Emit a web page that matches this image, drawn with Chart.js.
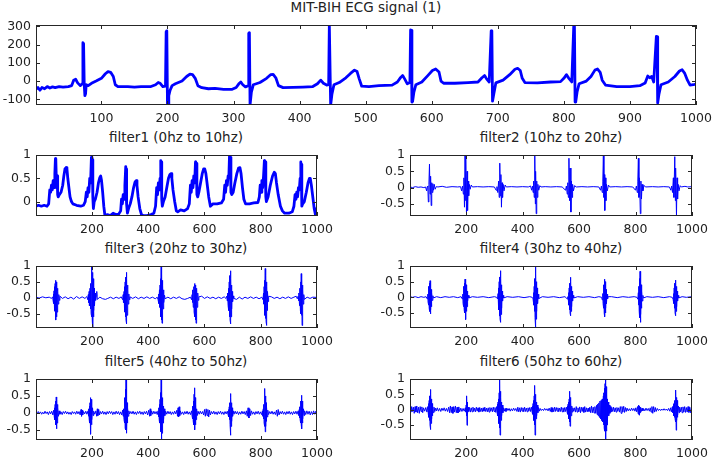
<!DOCTYPE html>
<html>
<head>
<meta charset="utf-8">
<script src="https://cdn.jsdelivr.net/npm/chart.js@4"></script>
<style>
body { margin: 0; background: #fff; width: 714px; height: 459px; position: relative; overflow: hidden; }
canvas { position: absolute; }
.t { position: absolute; font: 13.5px "DejaVu Sans"; color: #222; white-space: nowrap; transform: translate(-50%, -50%); }
</style>
</head>
<body>
<div class="t" style="left:366px;top:7px">MIT-BIH ECG signal (1)</div>
<div class="t" style="left:176px;top:137px">filter1 (0hz to 10hz)</div>
<div class="t" style="left:551px;top:137px">filter2 (10hz to 20hz)</div>
<div class="t" style="left:176px;top:248px">filter3 (20hz to 30hz)</div>
<div class="t" style="left:551px;top:248px">filter4 (30hz to 40hz)</div>
<div class="t" style="left:176px;top:361px">filter5 (40hz to 50hz)</div>
<div class="t" style="left:551px;top:361px">filter6 (50hz to 60hz)</div>
<canvas id="c0"></canvas>
<canvas id="c1"></canvas>
<canvas id="c2"></canvas>
<canvas id="c3"></canvas>
<canvas id="c4"></canvas>
<canvas id="c5"></canvas>
<canvas id="c6"></canvas>
<script>
// tick labels
const xTicksTop = [100, 200, 300, 400, 500, 600, 700, 800, 900, 1000];
const xTicksSub = [200, 400, 600, 800, 1000];
const ecgTicks = [-100, 0, 100, 200, 300];
const f1Ticks = [0, 0.5, 1];
const subTicks = [-0.5, 0, 0.5, 1];

// signals, [sample, value]
const ecg = [[1,-45],[4,-35],[7,-50],[10,-35],[14,-42],[18,-30],[22,-38],[26,-32],[30,-36],[36,-30],[42,-33],[50,-30],[55,-25],[58,5],[61,10],[64,-10],[68,-25],[71,-15],[72,210],[73,205],[74,-20],[75,-80],[76,-70],[77,-20],[80,-25],[85,-12],[92,0],[100,15],[106,40],[110,52],[114,48],[118,25],[121,-20],[125,-30],[140,-30],[150,-33],[160,-30],[175,-30],[182,-20],[186,-8],[189,-12],[193,-30],[197,-28],[198,270],[199,275],[200,-130],[201,-131],[202,-80],[204,-50],[207,-25],[212,-15],[222,0],[229,25],[234,38],[238,35],[242,15],[246,-25],[252,-36],[262,-42],[272,-40],[285,-46],[298,-45],[304,-35],[308,-15],[311,-5],[314,-20],[318,-32],[322,-25],[323,262],[324,265],[325,-131],[327,-60],[330,-20],[340,-8],[350,15],[356,35],[360,36],[364,18],[368,-25],[375,-36],[390,-35],[405,-33],[420,-30],[427,-15],[432,5],[436,-12],[441,-22],[444,-20],[445,307],[446,307],[447,-131],[449,-70],[452,-20],[460,-8],[470,18],[477,42],[483,60],[487,52],[490,15],[494,-28],[505,-30],[520,-25],[540,-22],[548,-5],[553,20],[556,30],[559,12],[563,-15],[567,-8],[568,280],[569,278],[570,-115],[571,-112],[573,-60],[576,-20],[585,-5],[594,30],[601,58],[606,66],[611,50],[614,0],[618,-12],[635,-12],[655,-8],[670,-5],[676,18],[680,30],[683,12],[687,-5],[690,275],[691,272],[692,-110],[694,-70],[697,-10],[708,5],[718,35],[726,65],[730,70],[734,58],[737,15],[741,-8],[760,-10],[780,-5],[795,-3],[800,15],[804,35],[807,18],[812,-5],[815,305],[816,300],[817,-115],[818,-112],[820,-60],[823,-15],[834,0],[841,25],[847,60],[851,66],[855,48],[858,5],[863,-22],[880,-30],[900,-30],[915,-25],[923,-10],[927,28],[930,18],[933,25],[936,-5],[940,245],[941,242],[942,-120],[944,-70],[947,-20],[958,-5],[968,25],[975,55],[979,62],[983,42],[987,5],[991,-22],[996,-20],[1000,-16]];

const f1 = [[1,-0.1],[10,-0.08],[20,-0.1],[30,-0.08],[40,-0.1],[46,-0.05],[50,0.25],[53,0.2],[56,0.35],[59,0.25],[62,0.45],[65,0.3],[68,0.6],[70,0.92],[71,0.5],[72,0.88],[74,0.3],[76,0.55],[78,0.15],[80,0.1],[84,0.15],[90,0.2],[96,0.35],[100,0.55],[104,0.7],[108,0.73],[111,0.7],[114,0.5],[118,0.3],[122,0.1],[127,0],[132,-0.05],[145,-0.08],[160,-0.1],[170,-0.08],[176,0],[180,0.2],[183,0.1],[186,0.3],[189,0.2],[192,0.5],[195,0.4],[198,0.95],[200,0.6],[201,0.9],[203,0.1],[205,-0.15],[208,0],[212,0.05],[218,0.2],[223,0.4],[228,0.52],[231,0.55],[234,0.45],[238,0.2],[242,-0.1],[246,-0.3],[255,-0.28],[265,-0.3],[275,-0.25],[285,-0.28],[295,-0.27],[302,-0.2],[305,0.05],[308,-0.05],[311,0.15],[314,0.05],[317,0.35],[320,0.75],[321,0.3],[322,0.7],[324,-0.05],[326,-0.25],[330,-0.15],[336,-0.05],[342,0.1],[348,0.3],[353,0.42],[357,0.45],[360,0.35],[364,0.1],[370,-0.15],[376,-0.28],[382,-0.3],[395,-0.3],[410,-0.28],[420,-0.25],[426,-0.1],[430,0.3],[433,0.15],[436,0.4],[439,0.25],[442,0.5],[444,0.88],[445,0.4],[446,0.85],[448,0.05],[450,-0.1],[454,0],[460,0.1],[466,0.3],[472,0.5],[477,0.58],[481,0.6],[484,0.5],[488,0.25],[494,0],[500,-0.2],[505,-0.22],[515,-0.18],[528,-0.2],[540,-0.15],[546,-0.05],[550,0.35],[553,0.2],[556,0.45],[559,0.3],[562,0.55],[565,0.4],[568,0.85],[569,0.5],[571,0.82],[573,0.15],[576,0.1],[580,0.2],[586,0.4],[592,0.6],[597,0.7],[601,0.7],[605,0.6],[610,0.35],[615,0.1],[621,-0.1],[630,-0.05],[645,-0.05],[660,-0.03],[668,0.05],[672,0.35],[675,0.2],[678,0.45],[681,0.35],[684,0.55],[687,0.6],[689,1.0],[690,0.5],[692,0.95],[694,0.2],[697,0.15],[702,0.2],[708,0.4],[715,0.6],[721,0.72],[726,0.73],[730,0.6],[735,0.3],[740,0.05],[746,-0.05],[760,-0.05],[775,-0.03],[790,-0.02],[795,0.1],[798,0.35],[801,0.2],[804,0.45],[807,0.3],[810,0.55],[813,0.88],[814,0.4],[816,0.85],[818,0.1],[820,0],[826,0.1],[834,0.35],[842,0.55],[848,0.63],[852,0.6],[856,0.4],[862,0.15],[870,-0.1],[877,-0.2],[885,-0.25],[900,-0.25],[912,-0.22],[918,-0.1],[922,0.15],[925,0.05],[928,0.2],[931,0.1],[934,0.3],[937,0.25],[940,0.5],[942,0.85],[943,0.3],[944,0.8],[946,-0.1],[949,-0.05],[955,0],[962,0.2],[968,0.4],[973,0.5],[976,0.5],[980,0.35],[985,0.1],[990,-0.15],[995,-0.3],[998,-0.15],[1000,-0.2]];

const f2 = [[1,0.02],[10,0],[20,0.03],[30,0.01],[40,0.02],[50,0],[56,0.02],[60,-0.1],[62,0.03],[64,0.05],[66,-0.44],[68,0.1],[70,0.72],[72,-0.2],[74,0.35],[76,-0.55],[78,0.15],[80,-0.15],[82,0.12],[84,-0.08],[87,0.1],[90,-0.05],[94,0.03],[100,0.02],[115,0.04],[130,0.01],[150,0.03],[170,0.02],[180,0.03],[184,-0.1],[187,0.05],[190,-0.2],[192,0.3],[194,-0.6],[196,1.0],[198,-0.4],[199,0.9],[201,-0.75],[203,0.5],[205,-0.7],[207,0.2],[209,-0.25],[211,0.1],[214,-0.05],[218,0.08],[222,0.02],[240,0.03],[260,0.02],[280,0.03],[300,0.02],[306,-0.08],[309,0.03],[312,-0.15],[315,0.2],[317,-0.3],[319,0.75],[321,-0.25],[323,0.4],[325,-0.6],[327,0.15],[329,-0.3],[331,0.1],[334,-0.1],[338,0.08],[342,0.02],[360,0.03],[380,0.02],[400,0.03],[420,0.02],[428,0.05],[432,-0.08],[435,0.05],[437,-0.15],[439,0.2],[441,-0.3],[443,1.0],[445,-0.5],[446,0.5],[448,-0.8],[450,0.2],[452,-0.3],[454,0.1],[457,-0.08],[461,0.06],[465,0.02],[480,0.03],[500,0.02],[520,0.03],[540,0.02],[552,-0.08],[555,0.05],[558,-0.2],[560,0.15],[562,-0.3],[564,0.9],[566,-0.4],[568,0.6],[571,-0.75],[573,0.2],[575,-0.3],[577,0.1],[580,-0.1],[584,0.06],[590,0.02],[610,0.03],[630,0.02],[650,0.03],[670,0.02],[676,-0.08],[679,0.05],[682,-0.15],[684,0.2],[686,1.0],[688,-0.3],[689,0.4],[691,-0.7],[693,0.3],[695,-0.4],[697,0.1],[700,-0.1],[704,0.08],[708,0.02],[730,0.03],[750,0.02],[770,0.03],[790,0.02],[800,-0.08],[803,0.05],[806,-0.15],[808,0.2],[810,0.9],[812,-0.3],[814,0.3],[817,-0.8],[819,0.2],[821,-0.35],[823,0.1],[826,-0.1],[830,0.07],[835,0.02],[860,0.03],[880,0.02],[900,0.03],[920,0.02],[925,-0.08],[928,0.05],[931,-0.15],[934,0.3],[936,-0.3],[939,0.95],[941,-0.4],[942,0.6],[945,-0.85],[947,0.3],[949,-0.35],[951,0.1],[954,-0.1],[958,0.06],[962,0.02],[975,0.04],[985,0.02],[1000,0.03]];

const f3 = [[1,0.02],[12,-0.01],[24,0.03],[36,0],[48,0.02],[56,-0.02],[60,0.03],[62,-0.1],[63,0.12],[64,-0.18],[65,0.22],[66,-0.3],[67,0.35],[68,-0.42],[69,0.45],[70,-0.55],[71,0.55],[72,-0.7],[73,0.5],[74,-0.6],[75,0.4],[76,-0.45],[77,0.3],[78,-0.3],[79,0.2],[80,-0.2],[82,0.1],[84,-0.08],[86,0.05],[95,-0.02],[105,0.03],[115,-0.03],[125,0.02],[135,-0.04],[145,0.04],[155,-0.02],[165,0.03],[175,-0.02],[182,0.04],[185,-0.06],[187,0.1],[188,-0.15],[190,0.2],[191,-0.25],[193,0.3],[194,-0.35],[196,0.45],[197,-0.5],[198,0.7],[199,-0.6],[200,1.0],[201,-0.7],[202,0.8],[203,-0.95],[204,0.6],[205,-0.6],[206,0.45],[207,-0.4],[208,0.3],[209,-0.25],[211,0.15],[213,-0.08],[215,0.05],[217,0.2],[219,-0.05],[228,0.02],[238,-0.03],[248,-0.05],[256,-0.02],[266,0.02],[276,-0.03],[286,0.02],[296,-0.02],[304,0.03],[309,-0.06],[311,0.1],[312,-0.15],[314,0.2],[315,-0.3],[316,0.35],[317,-0.45],[318,0.5],[319,-0.6],[320,0.65],[321,-0.7],[322,0.8],[323,-0.82],[324,0.6],[325,-0.55],[326,0.4],[327,-0.35],[328,0.25],[329,-0.2],[331,0.12],[333,-0.06],[335,0.03],[345,-0.02],[355,0.03],[365,-0.03],[375,0.02],[385,-0.02],[395,0.03],[405,-0.02],[415,0.02],[425,-0.03],[432,0.02],[435,-0.06],[437,0.12],[438,-0.18],[440,0.25],[441,-0.3],[442,0.4],[443,-0.5],[444,0.6],[445,-0.6],[446,1.0],[447,-0.7],[448,0.75],[449,-0.8],[450,0.55],[451,-0.55],[452,0.4],[453,-0.35],[454,0.25],[456,-0.15],[458,0.08],[460,-0.03],[470,0.02],[480,-0.03],[490,0.02],[500,-0.02],[510,0.03],[520,-0.03],[530,-0.05],[540,-0.02],[550,0.02],[554,-0.06],[556,0.1],[557,-0.15],[559,0.25],[560,-0.3],[562,0.35],[563,-0.45],[565,0.45],[566,-0.6],[567,0.4],[568,-0.7],[569,0.35],[570,-0.8],[571,0.3],[572,-0.5],[573,0.25],[574,-0.3],[576,0.15],[578,-0.08],[580,0.03],[590,0.05],[600,-0.02],[610,0.03],[620,-0.02],[630,0.02],[640,-0.03],[650,0.02],[660,-0.02],[670,0.03],[676,-0.02],[679,0.05],[681,-0.1],[682,0.15],[684,-0.25],[685,0.3],[687,-0.4],[688,0.5],[689,-0.6],[690,0.7],[691,-0.7],[692,0.85],[693,-0.82],[694,0.6],[695,-0.6],[696,0.4],[697,-0.35],[698,0.2],[700,-0.12],[702,0.06],[704,-0.02],[714,-0.05],[724,0.02],[734,-0.04],[744,0.02],[754,-0.02],[764,0.03],[774,-0.02],[784,0.02],[794,-0.03],[804,0.02],[808,-0.06],[810,0.15],[811,-0.2],[812,0.35],[813,-0.45],[814,0.55],[815,-0.55],[816,0.92],[817,-0.65],[818,0.7],[819,-0.75],[820,0.5],[821,-0.87],[822,0.35],[823,-0.4],[824,0.2],[826,-0.12],[828,0.05],[838,0.03],[848,-0.02],[858,0.02],[868,-0.03],[878,0.02],[888,-0.02],[898,0.03],[908,-0.02],[918,0.02],[926,0.05],[930,-0.03],[933,0.05],[935,-0.1],[936,0.15],[938,-0.25],[939,0.3],[941,-0.4],[942,0.5],[943,-0.5],[944,0.76],[945,-0.55],[946,0.6],[947,-0.87],[948,0.4],[949,-0.4],[950,0.25],[951,-0.2],[953,0.1],[955,-0.05],[965,0.02],[975,-0.02],[985,0.02],[1000,0.01]];

const f4 = [[1,0.02],[10,0],[20,0.02],[30,-0.01],[40,0.02],[50,0],[58,0.02],[62,-0.05],[64,0.1],[65,-0.15],[66,0.2],[67,-0.25],[68,0.35],[69,-0.35],[70,0.45],[71,-0.45],[72,0.53],[73,-0.53],[74,0.4],[75,-0.4],[76,0.25],[77,-0.3],[78,0.15],[80,-0.1],[82,0.05],[84,-0.02],[95,0.02],[110,-0.01],[125,0.02],[140,0],[155,0.02],[170,-0.01],[182,0.02],[186,-0.05],[188,0.1],[189,-0.2],[190,0.2],[191,-0.3],[192,0.35],[193,-0.4],[194,0.45],[195,-0.5],[196,0.58],[197,-0.6],[198,0.5],[199,-0.71],[200,0.4],[201,-0.45],[202,0.3],[203,-0.3],[204,0.2],[206,-0.12],[208,0.06],[210,-0.02],[222,0.02],[240,0],[260,0.02],[280,-0.01],[300,0.02],[308,0],[311,-0.05],[313,0.12],[314,-0.2],[315,0.3],[316,-0.4],[317,0.5],[318,-0.6],[319,0.65],[320,-0.7],[321,0.85],[322,-0.8],[323,0.6],[324,-0.55],[325,0.4],[326,-0.35],[327,0.2],[329,-0.12],[331,0.06],[333,-0.02],[345,0.02],[365,0],[385,0.02],[405,-0.01],[425,0.02],[434,0],[437,-0.05],[439,0.15],[440,-0.25],[441,0.35],[442,-0.45],[443,0.6],[444,-0.65],[445,1.0],[446,-0.98],[447,0.75],[448,-0.7],[449,0.5],[450,-0.45],[451,0.3],[453,-0.2],[455,0.1],[457,-0.04],[470,0.02],[490,0],[510,0.02],[530,-0.01],[550,0.02],[558,-0.05],[560,0.02],[562,-0.1],[563,0.15],[564,-0.25],[565,0.3],[566,-0.4],[567,0.45],[568,-0.5],[569,0.64],[570,-0.59],[571,0.5],[572,-0.45],[573,0.35],[574,-0.3],[575,0.2],[577,-0.12],[579,0.06],[581,-0.02],[595,0.02],[615,0],[635,0.02],[655,-0.01],[670,0.02],[680,0],[682,-0.08],[684,0.12],[685,-0.2],[686,0.25],[687,-0.35],[688,0.4],[689,-0.5],[690,0.58],[691,-0.62],[692,0.5],[693,-0.5],[694,0.4],[695,-0.35],[696,0.25],[697,-0.2],[699,0.1],[701,-0.05],[703,0.02],[715,0.02],[735,-0.01],[755,0.02],[775,0],[795,0.02],[805,0],[808,-0.06],[810,0.15],[811,-0.25],[812,0.35],[813,-0.45],[814,0.6],[815,-0.65],[816,0.83],[817,-0.8],[818,0.6],[819,-0.55],[820,0.4],[821,-0.35],[822,0.2],[824,-0.12],[826,0.06],[828,-0.02],[840,0.02],[860,0],[880,0.02],[900,-0.01],[920,0.02],[930,0],[933,-0.06],[935,0.12],[936,-0.2],[937,0.3],[938,-0.35],[939,0.45],[940,-0.5],[941,0.55],[942,-0.59],[943,0.45],[944,-0.45],[945,0.35],[946,-0.3],[947,0.2],[949,-0.12],[951,0.06],[953,-0.02],[965,0.02],[980,0],[1000,0.02]];

const f5 = [[1,0.02],[5,-0.03],[9,0.04],[13,-0.02],[17,0.03],[21,-0.04],[25,0.02],[29,-0.03],[33,0.05],[37,-0.02],[41,0.03],[45,-0.05],[49,0.04],[53,-0.03],[57,0.05],[61,-0.06],[64,0.08],[66,-0.12],[67,0.15],[68,-0.2],[69,0.25],[70,-0.3],[71,0.35],[72,-0.35],[73,0.47],[74,-0.47],[75,0.4],[76,-0.3],[77,0.25],[78,-0.2],[79,0.15],[81,-0.1],[83,0.06],[86,-0.04],[90,0.03],[94,-0.05],[98,0.04],[102,-0.02],[106,0.05],[110,-0.03],[114,0.03],[118,-0.04],[122,0.02],[126,-0.05],[130,0.04],[134,-0.02],[138,0.03],[142,-0.04],[146,0.05],[150,-0.03],[154,0.04],[158,-0.06],[161,0.1],[163,-0.1],[165,0.08],[167,-0.06],[170,0.04],[174,-0.03],[178,0.05],[182,-0.04],[186,0.06],[188,-0.1],[189,0.12],[190,-0.18],[191,0.2],[192,-0.3],[193,0.3],[194,-0.45],[195,0.45],[196,-0.63],[197,0.4],[198,-0.35],[199,0.25],[200,-0.2],[202,0.15],[204,-0.08],[206,0.05],[210,-0.04],[214,0.06],[217,-0.1],[219,0.12],[221,-0.08],[224,0.1],[227,-0.06],[230,0.04],[234,-0.03],[238,0.05],[242,-0.04],[246,0.03],[250,-0.05],[254,0.04],[258,-0.03],[262,0.05],[266,-0.02],[270,0.04],[274,-0.05],[278,0.03],[282,-0.04],[286,0.05],[290,-0.03],[294,0.04],[298,-0.05],[302,0.03],[306,-0.06],[309,0.08],[311,-0.1],[312,0.12],[314,-0.2],[315,0.25],[316,-0.3],[317,0.45],[318,-0.45],[319,0.7],[320,-0.5],[321,1.0],[322,-0.6],[323,0.6],[324,-0.5],[325,0.3],[326,-0.3],[327,0.15],[329,-0.1],[331,0.06],[334,-0.03],[338,0.04],[342,-0.03],[346,0.05],[350,-0.04],[354,0.03],[358,-0.05],[362,0.04],[366,-0.02],[370,0.05],[374,-0.04],[378,0.03],[382,-0.05],[386,0.04],[390,-0.03],[394,0.05],[398,-0.06],[402,0.08],[405,-0.1],[407,0.12],[409,-0.08],[412,0.06],[416,-0.04],[420,0.05],[424,-0.03],[428,0.04],[432,-0.05],[435,0.06],[437,-0.12],[438,0.15],[439,-0.2],[440,0.25],[441,-0.3],[442,0.4],[443,-0.4],[444,0.6],[445,-0.55],[446,1.0],[447,-0.8],[448,0.7],[449,-0.6],[450,0.45],[451,-0.45],[452,0.3],[453,-0.3],[454,0.2],[455,-0.2],[457,0.12],[459,-0.08],[462,0.05],[466,-0.04],[470,0.05],[474,-0.03],[478,0.04],[482,-0.05],[486,0.03],[490,-0.04],[494,0.05],[498,-0.03],[502,0.08],[504,-0.1],[506,0.15],[508,-0.12],[510,0.18],[512,-0.08],[514,0.06],[518,-0.04],[522,0.03],[526,-0.05],[530,0.04],[534,-0.03],[538,0.05],[542,-0.04],[546,0.03],[550,-0.05],[554,0.06],[556,-0.1],[557,0.12],[558,-0.18],[559,0.2],[560,-0.25],[561,0.35],[562,-0.35],[563,0.55],[564,-0.45],[565,0.74],[566,-0.5],[567,0.45],[568,-0.35],[569,0.25],[570,-0.2],[572,0.12],[574,-0.08],[577,0.05],[581,-0.04],[585,0.05],[589,-0.03],[593,0.04],[597,-0.06],[600,0.1],[603,-0.1],[606,0.12],[609,-0.08],[612,0.1],[615,-0.12],[618,0.08],[621,-0.06],[625,0.04],[629,-0.03],[633,0.05],[637,-0.04],[641,0.03],[645,-0.05],[649,0.04],[653,-0.03],[657,0.05],[661,-0.04],[665,0.03],[669,-0.05],[673,0.04],[677,-0.03],[681,0.05],[684,-0.06],[686,0.1],[687,-0.12],[688,0.18],[689,-0.2],[690,0.3],[691,-0.35],[692,0.57],[693,-0.66],[694,0.45],[695,-0.4],[696,0.3],[697,-0.25],[698,0.15],[700,-0.1],[702,0.06],[705,-0.04],[709,0.05],[713,-0.03],[717,0.04],[721,-0.05],[725,0.03],[729,-0.04],[733,0.05],[737,-0.03],[741,0.04],[745,-0.05],[749,0.06],[752,-0.1],[755,0.15],[758,-0.15],[761,0.12],[764,-0.08],[767,0.06],[771,-0.04],[775,0.03],[779,-0.05],[783,0.04],[787,-0.03],[791,0.05],[795,-0.04],[799,0.03],[803,-0.05],[806,0.06],[808,-0.1],[809,0.12],[810,-0.18],[811,0.25],[812,-0.3],[813,0.45],[814,-0.4],[815,0.72],[816,-0.56],[817,0.5],[818,-0.4],[819,0.3],[820,-0.25],[821,0.18],[823,-0.12],[825,0.08],[828,-0.05],[832,0.04],[836,-0.03],[840,0.05],[844,-0.04],[848,0.03],[852,-0.05],[856,0.08],[859,-0.1],[862,0.1],[865,-0.06],[869,0.04],[873,-0.03],[877,0.05],[881,-0.04],[885,0.03],[889,-0.05],[893,0.04],[897,-0.03],[901,0.05],[905,-0.04],[909,0.03],[913,-0.05],[917,0.04],[921,-0.03],[925,0.05],[929,-0.04],[933,0.06],[936,-0.08],[937,0.1],[938,-0.15],[939,0.18],[940,-0.2],[941,0.25],[942,-0.3],[943,0.35],[944,-0.35],[945,0.52],[946,-0.47],[947,0.35],[948,-0.3],[949,0.2],[950,-0.18],[952,0.12],[954,-0.08],[956,0.06],[960,-0.05],[964,0.06],[968,-0.04],[972,0.05],[976,-0.06],[980,0.04],[984,-0.05],[988,0.06],[992,-0.04],[996,0.05],[1000,-0.03]];

const f6 = [[1,0.05],[4,-0.08],[7,0.1],[10,-0.06],[13,0.08],[16,-0.12],[19,0.1],[22,-0.08],[25,0.12],[28,-0.1],[31,0.08],[34,-0.12],[37,0.1],[40,-0.06],[43,0.09],[46,-0.1],[49,0.06],[53,-0.05],[57,0.07],[61,-0.08],[64,0.1],[66,-0.15],[67,0.2],[68,-0.25],[69,0.3],[70,-0.35],[71,0.45],[72,-0.5],[73,0.66],[74,-0.65],[75,0.5],[76,-0.45],[77,0.35],[78,-0.3],[79,0.2],[80,-0.2],[82,0.12],[84,-0.1],[86,0.08],[89,-0.06],[92,0.05],[95,-0.04],[98,0.06],[102,-0.05],[106,0.04],[110,-0.06],[114,0.05],[118,-0.03],[122,0.06],[126,-0.05],[130,0.04],[134,-0.06],[138,0.08],[141,-0.1],[144,0.12],[147,-0.1],[150,0.09],[153,-0.12],[156,0.1],[159,-0.08],[162,0.12],[165,-0.1],[168,0.08],[171,-0.11],[174,0.09],[177,-0.07],[181,0.05],[185,-0.06],[189,0.04],[193,-0.05],[197,0.06],[199,-0.08],[200,0.15],[201,-0.2],[202,0.45],[203,-0.51],[204,0.25],[205,-0.15],[207,0.08],[209,-0.06],[212,0.07],[215,-0.08],[218,0.06],[221,-0.07],[224,0.08],[227,-0.06],[230,0.05],[233,-0.07],[236,0.08],[239,-0.05],[242,0.06],[245,-0.08],[248,0.07],[251,-0.06],[254,0.05],[257,-0.07],[260,0.06],[263,-0.05],[266,0.08],[269,-0.06],[272,0.05],[275,-0.07],[278,0.06],[281,-0.08],[284,0.07],[287,-0.05],[290,0.06],[293,-0.07],[296,0.08],[299,-0.06],[302,0.07],[305,-0.09],[308,0.1],[310,-0.12],[311,0.18],[312,-0.2],[313,0.25],[314,-0.3],[315,0.35],[316,-0.45],[317,0.55],[318,-0.6],[319,1.0],[320,-0.83],[321,0.6],[322,-0.5],[323,0.4],[324,-0.35],[325,0.25],[326,-0.2],[328,0.15],[330,-0.1],[332,0.06],[335,-0.05],[338,0.04],[341,-0.06],[344,0.05],[348,-0.03],[352,0.04],[356,-0.05],[360,0.03],[364,-0.04],[368,0.05],[372,-0.03],[376,0.04],[380,-0.06],[383,0.08],[386,-0.07],[389,0.06],[392,-0.08],[395,0.07],[398,-0.05],[401,0.06],[404,-0.07],[407,0.08],[410,-0.06],[413,0.05],[416,-0.07],[419,0.06],[422,-0.05],[425,0.07],[428,-0.06],[431,0.08],[434,-0.1],[435,0.12],[436,-0.15],[437,0.2],[438,-0.25],[439,0.3],[440,-0.35],[441,0.45],[442,-0.5],[443,0.79],[444,-0.83],[445,0.5],[446,-0.45],[447,0.35],[448,-0.3],[449,0.25],[450,-0.2],[452,0.15],[454,-0.1],[456,0.07],[459,-0.05],[462,0.04],[466,-0.03],[470,0.02],[474,-0.03],[478,0.04],[482,-0.02],[486,0.03],[490,-0.04],[494,0.05],[498,-0.06],[501,0.07],[504,-0.08],[507,0.06],[510,-0.07],[513,0.08],[516,-0.06],[519,0.07],[522,-0.05],[525,0.06],[528,-0.07],[531,0.05],[534,-0.06],[537,0.08],[540,-0.07],[543,0.06],[546,-0.08],[549,0.07],[552,-0.06],[555,0.08],[558,-0.1],[559,0.12],[560,-0.15],[561,0.18],[562,-0.2],[563,0.25],[564,-0.3],[565,0.35],[566,-0.4],[567,0.6],[568,-0.54],[569,0.4],[570,-0.35],[571,0.25],[572,-0.2],[574,0.12],[576,-0.08],[578,0.06],[581,-0.05],[584,0.06],[587,-0.08],[590,0.1],[593,-0.08],[596,0.06],[599,-0.07],[602,0.09],[605,-0.1],[608,0.08],[611,-0.06],[614,0.07],[617,-0.09],[620,0.1],[623,-0.08],[626,0.06],[629,-0.07],[632,0.05],[635,-0.06],[638,0.08],[641,-0.1],[644,0.12],[647,-0.1],[650,0.08],[653,-0.11],[656,0.1],[659,-0.12],[662,0.14],[664,-0.16],[666,0.18],[668,-0.2],[670,0.22],[672,-0.25],[674,0.28],[676,-0.3],[678,0.3],[680,-0.35],[682,0.35],[684,-0.4],[686,0.45],[687,-0.5],[688,0.55],[689,-0.6],[690,0.7],[691,-0.7],[692,0.85],[693,-0.85],[694,1.0],[695,-0.99],[696,0.75],[697,-0.7],[698,0.5],[699,-0.5],[700,0.35],[701,-0.35],[703,0.25],[705,-0.2],[707,0.15],[709,-0.12],[711,0.1],[713,-0.08],[716,0.07],[719,-0.06],[722,0.08],[725,-0.07],[728,0.06],[731,-0.08],[734,0.07],[737,-0.05],[740,0.06],[743,-0.08],[746,0.1],[749,-0.12],[752,0.1],[755,-0.08],[758,0.11],[761,-0.09],[764,0.07],[767,-0.06],[770,0.05],[774,-0.04],[778,0.03],[782,-0.04],[786,0.05],[790,-0.03],[794,0.04],[798,-0.05],[801,0.06],[804,-0.07],[807,0.1],[809,-0.12],[810,0.15],[811,-0.15],[812,0.14],[813,-0.18],[814,0.12],[816,-0.1],[818,0.08],[820,-0.06],[823,0.05],[826,-0.04],[829,0.03],[833,-0.04],[837,0.05],[841,-0.03],[845,0.04],[849,-0.05],[852,0.06],[855,-0.08],[858,0.1],[861,-0.12],[864,0.1],[867,-0.08],[870,0.07],[873,-0.06],[877,0.04],[881,-0.03],[885,0.02],[889,-0.03],[893,0.02],[897,-0.02],[901,0.03],[905,-0.02],[909,0.02],[913,-0.03],[917,0.04],[921,-0.05],[924,0.06],[927,-0.07],[930,0.08],[932,-0.1],[933,0.12],[934,-0.15],[935,0.18],[936,-0.2],[937,0.22],[938,-0.25],[939,0.3],[940,-0.3],[941,0.35],[942,-0.4],[943,0.64],[944,-0.67],[945,0.4],[946,-0.35],[947,0.3],[948,-0.25],[949,0.2],[950,-0.18],[952,0.12],[954,-0.1],[956,0.08],[959,-0.07],[962,0.08],[965,-0.1],[968,0.09],[971,-0.08],[974,0.1],[977,-0.09],[980,0.07],[983,-0.08],[986,0.1],[989,-0.09],[992,0.08],[995,-0.1],[998,0.07],[1000,-0.05]];

// matlab style box with inward ticks on all four sides
const boxPlugin = {
  id: 'box',
  afterDraw(chart) {
    const { ctx, chartArea: a, scales: { x, y } } = chart;
    ctx.save();
    ctx.strokeStyle = '#262626';
    ctx.lineWidth = 1;
    ctx.strokeRect(a.left + 0.5, a.top + 0.5, a.right - a.left - 1, a.bottom - a.top - 1);
    ctx.beginPath();
    x.ticks.forEach(t => {
      const px = Math.round(x.getPixelForValue(t.value)) + 0.5;
      ctx.moveTo(px, a.bottom); ctx.lineTo(px, a.bottom - 4);
      ctx.moveTo(px, a.top); ctx.lineTo(px, a.top + 4);
    });
    y.ticks.forEach(t => {
      const py = Math.round(y.getPixelForValue(t.value)) + 0.5;
      ctx.moveTo(a.left, py); ctx.lineTo(a.left + 4, py);
      ctx.moveTo(a.right, py); ctx.lineTo(a.right - 4, py);
    });
    ctx.stroke();
    ctx.restore();
  }
};

const tickFont = { family: 'DejaVu Sans', size: 12.5 };

function makeChart(id, box, series, yMin, yMax, yTicks, xTicks, lw) {
  const cv = document.getElementById(id);
  cv.width = box[2] - box[0] + 60;
  cv.height = box[3] - box[1] + 32;
  cv.style.left = (box[0] - 40) + 'px';
  cv.style.top = (box[1] - 10) + 'px';
  return new Chart(cv, {
    type: 'line',
    data: {
      datasets: [{
        data: series,
        borderColor: '#0000ff',
        borderWidth: lw,
        pointRadius: 0,
        tension: 0,
        clip: 0,
        borderJoinStyle: 'round'
      }]
    },
    options: {
      responsive: false,
      animation: false,
      devicePixelRatio: 1,
      layout: { padding: { left: 4, top: 10, right: 20, bottom: 0 } },
      plugins: { legend: { display: false }, tooltip: { enabled: false } },
      scales: {
        x: {
          type: 'linear', min: 1, max: 1000,
          grid: { display: false, drawTicks: false },
          border: { display: false },
          afterBuildTicks: s => { s.ticks = xTicks.map(v => ({ value: v })); },
          afterFit: s => { s.height = 22; s.paddingLeft = 0; s.paddingRight = 0; },
          ticks: { padding: 6, maxRotation: 0, autoSkip: false, color: '#222', font: tickFont, callback: v => String(v) }
        },
        y: {
          type: 'linear', min: yMin, max: yMax,
          grid: { display: false, drawTicks: false },
          border: { display: false },
          afterBuildTicks: s => { s.ticks = yTicks.map(v => ({ value: v })); },
          afterFit: s => { s.width = 36; s.paddingTop = 0; s.paddingBottom = 0; },
          ticks: { padding: 5, autoSkip: false, color: '#222', font: tickFont, callback: v => String(v) }
        }
      }
    },
    plugins: [boxPlugin]
  });
}

makeChart('c0', [36, 25, 696, 105], ecg, -131, 307, ecgTicks, xTicksTop, 2.8);
makeChart('c1', [36, 155, 317, 216], f1, -0.31, 1, f1Ticks, xTicksSub, 2.8);
makeChart('c2', [410, 155, 692, 216], f2, -0.87, 1, subTicks, xTicksSub, 1);
makeChart('c3', [36, 266, 317, 328], f3, -0.95, 1, subTicks, xTicksSub, 1);
makeChart('c4', [410, 266, 692, 328], f4, -0.98, 1, subTicks, xTicksSub, 1);
makeChart('c5', [36, 379, 317, 440], f5, -0.8, 1, subTicks, xTicksSub, 1);
makeChart('c6', [410, 379, 692, 440], f6, -0.99, 1, subTicks, xTicksSub, 1);
</script>
</body>
</html>
